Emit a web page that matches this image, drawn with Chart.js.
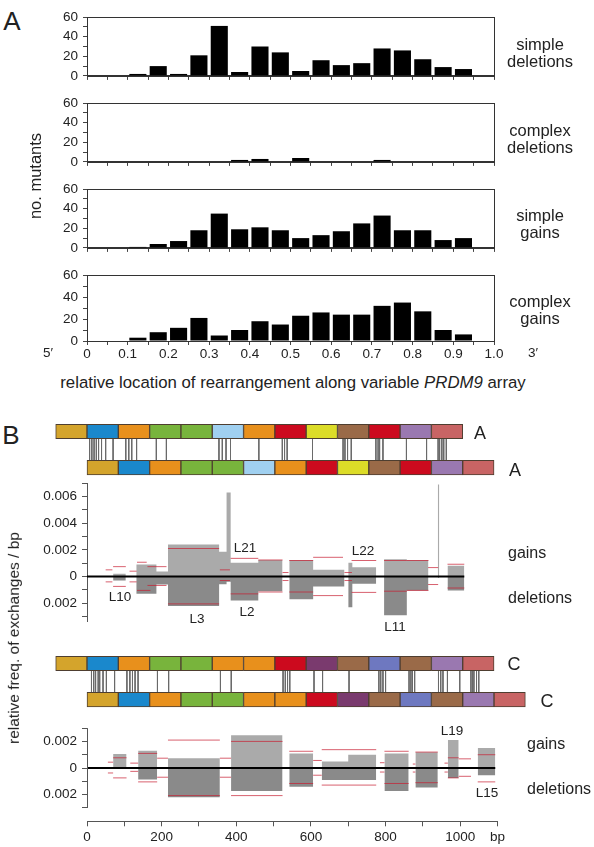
<!DOCTYPE html>
<html>
<head>
<meta charset="utf-8">
<script src="https://cdn.jsdelivr.net/npm/chart.js@4.4.1/dist/chart.umd.min.js"></script>
<style>
  body { margin: 0; width: 594px; height: 847px; position: relative; overflow: hidden; background: #fff;
         font-family: "Liberation Sans", Arial, sans-serif; color: #222; }
  canvas { position: absolute; left: 0; }
  .t { position: absolute; white-space: nowrap; transform: translate(-50%, -50%); line-height: 1.05; text-align: center; }
  .l { position: absolute; white-space: nowrap; transform: translateY(-50%); }
  .rot { transform: translate(-50%, -50%) rotate(-90deg); }
</style>
</head>
<body>

<div class="t" style="left:12px;top:22px;font-size:26px;">A</div>
<div class="t" style="left:11px;top:436px;font-size:26px;">B</div>

<canvas id="h1" width="594" height="85" style="top:4px"></canvas>
<canvas id="h2" width="594" height="85" style="top:90px"></canvas>
<canvas id="h3" width="594" height="85" style="top:176px"></canvas>
<canvas id="h4" width="594" height="103" style="top:262px"></canvas>

<div class="t" style="left:540px;top:53px;font-size:16.5px;">simple<br>deletions</div>
<div class="t" style="left:540px;top:139px;font-size:16.5px;">complex<br>deletions</div>
<div class="t" style="left:540px;top:224px;font-size:16.5px;">simple<br>gains</div>
<div class="t" style="left:540px;top:310px;font-size:16.5px;">complex<br>gains</div>
<div class="t rot" style="left:36px;top:176px;font-size:16.5px;">no. mutants</div>
<div class="t" style="left:48px;top:353px;font-size:13.5px;">5′</div>
<div class="t" style="left:533px;top:353px;font-size:13.5px;">3′</div>
<div class="t" style="left:293px;top:383px;font-size:16.8px;">relative location of rearrangement along variable <i>PRDM9</i> array</div>

<canvas id="bA" width="594" height="90" style="top:405px"></canvas>
<canvas id="pA" width="594" height="165" style="top:470px"></canvas>
<canvas id="bC" width="594" height="90" style="top:637px"></canvas>
<canvas id="pC" width="594" height="132" style="top:715px"></canvas>

<div class="t" style="left:480px;top:433px;font-size:18px;">A</div>
<div class="t" style="left:515px;top:470px;font-size:18px;">A</div>
<div class="t" style="left:514px;top:664px;font-size:18px;">C</div>
<div class="t" style="left:547px;top:701px;font-size:18px;">C</div>

<div class="t rot" style="left:14px;top:638px;font-size:15.5px;">relative freq. of exchanges / bp</div>
<div class="l" style="left:508px;top:553px;font-size:16px;">gains</div>
<div class="l" style="left:508px;top:598px;font-size:16px;">deletions</div>
<div class="l" style="left:527px;top:744px;font-size:16px;">gains</div>
<div class="l" style="left:527px;top:789px;font-size:16px;">deletions</div>

<div class="t" style="left:120px;top:597px;font-size:13.5px;">L10</div>
<div class="t" style="left:197px;top:619px;font-size:13.5px;">L3</div>
<div class="t" style="left:247px;top:612px;font-size:13.5px;">L2</div>
<div class="t" style="left:245px;top:548px;font-size:13.5px;">L21</div>
<div class="t" style="left:363px;top:551px;font-size:13.5px;">L22</div>
<div class="t" style="left:395px;top:627px;font-size:13.5px;">L11</div>
<div class="t" style="left:452px;top:731px;font-size:13.5px;">L19</div>
<div class="t" style="left:487px;top:793px;font-size:13.5px;">L15</div>

<script>
// ---- panel A: histograms, 20 bins along the array ----
const binCenters = [0.025, 0.075, 0.125, 0.175, 0.225, 0.275, 0.325, 0.375, 0.425, 0.475,
                    0.525, 0.575, 0.625, 0.675, 0.725, 0.775, 0.825, 0.875, 0.925, 0.975];
const simpleDeletions  = [0, 0, 2, 10, 2, 21, 51, 4, 30, 24, 5, 16, 11, 13, 28, 26, 17, 9, 7, 0];
const complexDeletions = [0, 0, 0, 0, 0, 0, 0, 2, 3, 0, 4, 0, 0, 0, 2, 0, 0, 0, 0, 0];
const simpleGains      = [0, 0, 1, 4, 7, 18, 35, 19, 21, 18, 10, 13, 17, 25, 33, 18, 18, 8, 10, 0];
const complexGains     = [0, 0, 3, 8, 12, 21, 5, 10, 18, 15, 23, 26, 24, 24, 32, 35, 27, 10, 6, 0];
const locationLabels = ['0', '0.1', '0.2', '0.3', '0.4', '0.5', '0.6', '0.7', '0.8', '0.9', '1.0'];

// ---- panel B: repeat arrays (84 bp units) ----
const repeatLen = 84;
const rowOffsets = [-84, 0];   // top row, bottom row (bp)
const rowLevels = [2, 1];
const repeatColours = {
  gold: '#d4a42c', blue: '#1a88cc', orange: '#e8901c', green: '#78b43c', lightblue: '#a0d0f0',
  red: '#cc0a1e', yellow: '#dcdc28', brown: '#9a6a48', lilac: '#9a78b0', salmon: '#c86464',
  plum: '#7a3a6e', slate: '#6e78c0'
};
const arrayA = ['gold', 'blue', 'orange', 'green', 'green', 'lightblue', 'orange', 'red', 'yellow', 'brown', 'red', 'lilac', 'salmon'];
const arrayC = ['gold', 'blue', 'orange', 'green', 'green', 'orange', 'orange', 'red', 'plum', 'brown', 'slate', 'brown', 'lilac', 'salmon'];
const linksA = [7, 13, 19, 25, 31, 39, 50, 70, 104, 112, 120, 133, 186, 213, 354, 363, 373, 385, 461,
                524, 530, 537, 605, 687, 692, 699, 709, 775, 781, 785, 794, 857, 911, 942, 946, 952, 957, 964];
const linksC = [12, 18, 23, 30, 34, 43, 52, 74, 107, 115, 122, 129, 137, 189, 219, 358, 387, 526, 532, 538, 544,
                609, 632, 703, 783, 788, 794, 801, 864, 869, 873, 879, 943, 949, 955, 967, 1000,
                1030, 1034, 1038, 1045, 1051];

// exchange-frequency profiles (bp intervals, freq / bp)
const startA = [70, 132, 186, 217, 354, 374, 385, 459, 542, 606, 700, 711, 796, 857, 940, 966];
const endA   = [104, 186, 217, 354, 374, 385, 459, 524, 606, 690, 711, 775, 857, 915, 944, 1011];
const gainA  = [0.0002, 0.0009, 0.00037, 0.0024, 0.00185, 0.0063, 0.00104, 0.00123, 0.00123, 0.0005,
                0.00104, 0.0007, 0.0013, 0.00123, 0.0069, 0.0008];
const delA   = [-0.0003, -0.0013, -0.0006, -0.0022, -0.00057, -0.0004, -0.0018, -0.0011, -0.0017, -0.00074,
                -0.0023, -0.00054, -0.0029, -0.00104, -0.0001, -0.00104];
const expectedA = [
  [50, 68, 0.0005], [50, 68, -0.0004], [70, 104, 0.00074], [70, 104, -0.00074],
  [114, 133, 0.0004], [114, 133, -0.0004], [134, 160, 0.00107], [134, 170, -0.00104],
  [162, 213, 0.00074], [162, 213, -0.00067], [217, 354, 0.0021], [217, 354, -0.00205],
  [356, 383, 0.0005], [356, 383, -0.0003], [385, 459, 0.00136], [385, 459, -0.0013],
  [459, 524, 0.00124], [459, 524, -0.00116], [524, 540, 0.0003], [524, 540, -0.0003],
  [542, 606, 0.0012], [542, 606, -0.00116], [606, 686, 0.00144], [606, 686, -0.00143],
  [690, 710, 0.0003], [690, 710, -0.0003], [709, 775, 0.0012], [709, 775, -0.00119],
  [796, 857, 0.0012], [796, 857, -0.0011], [857, 915, 0.0012], [857, 915, -0.00104],
  [914, 941, 0.00067], [914, 941, -0.0006], [966, 1011, 0.00092], [966, 1011, -0.00086]
];
const startC = [70, 137, 217, 386, 542, 629, 700, 797, 880, 967, 1047];
const endC   = [106, 188, 356, 524, 606, 700, 775, 862, 940, 996, 1094];
const gainC  = [0.00106, 0.0013, 0.00074, 0.00247, 0.0011, 0.0005, 0.001, 0.0011, 0.00118, 0.0021, 0.0015];
const delC   = [0, -0.00086, -0.0022, -0.00173, -0.0014, -0.0009, -0.0009, -0.00173, -0.00146, -0.00074, -0.00054];
const expectedC = [
  [56, 70, 0.00044], [56, 70, -0.00037], [70, 106, 0.00077], [70, 106, -0.00074],
  [116, 137, 0.00037], [116, 137, -0.00025], [137, 188, 0.0011], [137, 188, -0.00104],
  [188, 217, 0.00074], [188, 217, -0.00069], [217, 356, 0.0021], [217, 356, -0.00207],
  [356, 386, 0.00074], [356, 386, -0.00069], [386, 524, 0.002], [386, 524, -0.00207],
  [542, 606, 0.00126], [542, 606, -0.00116], [606, 629, 0.00057], [606, 629, -0.00054],
  [629, 775, 0.00138], [629, 775, -0.00128], [785, 797, 0.0004], [785, 797, -0.0003],
  [797, 862, 0.00126], [797, 862, -0.00116], [873, 880, 0.0003], [873, 880, -0.0003],
  [880, 940, 0.0012], [880, 940, -0.0011], [958, 967, 0.00037], [958, 967, -0.0003],
  [967, 996, 0.00077], [967, 996, -0.00074], [996, 1029, 0.00069], [996, 1029, -0.00062],
  [1047, 1094, 0.001], [1047, 1094, -0.00104]
];
const yTicksA = [-0.003, -0.002, -0.001, 0, 0.001, 0.002, 0.003, 0.004, 0.005, 0.006, 0.007];
const yTicksC = [-0.003, -0.002, -0.001, 0, 0.001, 0.002, 0.003];

Chart.defaults.font.family = '"Liberation Sans", Arial, sans-serif';
Chart.defaults.font.size = 13.5;
Chart.defaults.color = '#333';

// box round the histogram plot area
const frame = {
  id: 'frame',
  afterDraw(chart) {
    const a = chart.chartArea, ctx = chart.ctx;
    ctx.save();
    ctx.strokeStyle = '#333';
    ctx.lineWidth = 1;
    ctx.strokeRect(Math.round(a.left) + 0.5, Math.round(a.top) + 0.5, Math.round(a.right - a.left), Math.round(a.bottom - a.top));
    ctx.restore();
  }
};

// y axis line that stops short of the chart area (lower profile)
const axisLine = {
  id: 'axisLine',
  afterDraw(chart, args, opts) {
    if (opts.from === undefined) return;
    const y = chart.scales.y, ctx = chart.ctx;
    const x = Math.round(chart.chartArea.left) + 0.5;
    ctx.save();
    ctx.strokeStyle = '#555';
    ctx.lineWidth = 1;
    ctx.beginPath();
    ctx.moveTo(x, y.getPixelForValue(opts.from));
    ctx.lineTo(x, y.getPixelForValue(opts.to));
    ctx.stroke();
    ctx.restore();
  }
};

function histogram(id, values, withLabels) {
  new Chart(document.getElementById(id), {
    type: 'bar',
    data: {
      datasets: [{
        data: binCenters.map((x, i) => ({ x: x, y: values[i] })),
        backgroundColor: '#000',
        barPercentage: 0.84,
        categoryPercentage: 1
      }]
    },
    options: {
      responsive: false,
      animation: false,
      events: [],
      layout: { padding: { top: 9, right: 100, left: 0, bottom: 0 } },
      plugins: { legend: { display: false }, tooltip: { enabled: false } },
      scales: {
        x: {
          type: 'linear', min: 0, max: 1, offset: false,
          grid: { drawOnChartArea: false, tickLength: 4, color: '#444', offset: false },
          border: { color: '#333' },
          ticks: {
            display: withLabels, stepSize: 0.05, autoSkip: false, maxRotation: 0, padding: 1, color: '#222',
            callback: v => {
              const r = Math.round(v * 100);
              return r % 10 === 0 ? locationLabels[r / 10] : '';
            }
          },
          afterFit: s => { s.height = withLabels ? 24 : 6; }
        },
        y: {
          min: 0, max: 60,
          grid: { drawOnChartArea: false, tickLength: 4, color: '#444' },
          border: { color: '#333' },
          ticks: { stepSize: 10, autoSkip: false, padding: 5, color: '#222', callback: v => (v % 20 === 0 ? v : '') },
          afterFit: s => { s.width = 87; }
        }
      }
    },
    plugins: [frame]
  });
}

histogram('h1', simpleDeletions, false);
histogram('h2', complexDeletions, false);
histogram('h3', simpleGains, false);
histogram('h4', complexGains, true);

function repeatDiagram(id, seq, links) {
  const datasets = rowOffsets.map((off, r) => ({
    type: 'bar',
    indexAxis: 'y',
    data: seq.map((code, i) => ({ y: rowLevels[r], x: [off + i * repeatLen, off + (i + 1) * repeatLen] })),
    backgroundColor: seq.map(code => repeatColours[code]),
    borderColor: '#4e3e30',
    borderWidth: 1,
    borderSkipped: false,
    barThickness: 14.5,
    grouped: false
  }));
  const pts = [];
  links.forEach(x => { pts.push({ x: x, y: 1.8 }, { x: x, y: 1.2 }, { x: x, y: null }); });
  datasets.push({
    type: 'line', indexAxis: 'x', data: pts, borderColor: '#6a6a6a', borderWidth: 1,
    pointRadius: 0, spanGaps: false
  });
  new Chart(document.getElementById(id), {
    type: 'bar',
    data: { datasets: datasets },
    options: {
      responsive: false,
      animation: false,
      events: [],
      layout: { padding: { top: 8.4, bottom: 9.2, left: 31.1, right: 3.8 } },
      plugins: { legend: { display: false }, tooltip: { enabled: false } },
      scales: {
        x: { type: 'linear', min: -150, max: 1350, display: false, offset: false, grid: { offset: false } },
        y: { type: 'linear', min: 0.5, max: 2.5, display: false, offset: false, grid: { offset: false } }
      }
    }
  });
}

function stepPoints(starts, ends, vals) {
  const pts = [];
  for (let i = 0; i < starts.length; i++) {
    if (i > 0 && starts[i] > ends[i - 1]) pts.push({ x: (ends[i - 1] + starts[i]) / 2, y: null });
    pts.push({ x: starts[i], y: vals[i] }, { x: ends[i], y: vals[i] });
  }
  return pts;
}

function segPoints(segs) {
  const pts = [];
  segs.forEach(([a, b, y]) => { pts.push({ x: a, y: y }, { x: b, y: y }, { x: b, y: null }); });
  return pts;
}

function profile(id, cfg) {
  const base = { pointRadius: 0, spanGaps: false };
  new Chart(document.getElementById(id), {
    type: 'line',
    data: {
      datasets: [
        Object.assign({ data: [{ x: 0, y: 0 }, { x: cfg.zeroEnd, y: 0 }], borderColor: '#000', borderWidth: 2, order: 0 }, base),
        Object.assign({ data: segPoints(cfg.expected), borderColor: 'rgba(200, 30, 50, 0.7)', borderWidth: 1, order: 1 }, base),
        Object.assign({ data: stepPoints(cfg.starts, cfg.ends, cfg.gains), borderColor: 'rgba(0,0,0,0)', borderWidth: 1,
                        backgroundColor: '#aaaaaa', fill: 'origin', order: 2 }, base),
        Object.assign({ data: stepPoints(cfg.starts, cfg.ends, cfg.dels), borderColor: 'rgba(0,0,0,0)', borderWidth: 1,
                        backgroundColor: '#8a8a8a', fill: 'origin', order: 3 }, base)
      ]
    },
    options: {
      responsive: false,
      animation: false,
      events: [],
      layout: { padding: { top: cfg.padTop, bottom: cfg.padBottom, left: 0, right: 96.5 } },
      plugins: { legend: { display: false }, tooltip: { enabled: false }, axisLine: cfg.axisLine || {} },
      scales: {
        x: {
          type: 'linear', min: 0, max: 1100, display: cfg.showX,
          grid: { drawOnChartArea: false, tickLength: 5, color: '#555' },
          border: { color: '#555' },
          ticks: {
            stepSize: 100, autoSkip: false, maxRotation: 0, padding: 3, color: '#222',
            callback: v => (v === 1100 ? 'bp' : (v % 200 === 0 ? v : ''))
          },
          afterFit: s => { s.height = cfg.showX ? 25.7 : 0; }
        },
        y: {
          type: 'linear', min: cfg.yMin, max: cfg.yMax,
          grid: { drawOnChartArea: false, tickLength: 5, color: '#555' },
          border: { display: !cfg.axisLine, color: '#555' },
          ticks: {
            autoSkip: false, padding: 5, color: '#222',
            callback: v => {
              const k = Math.round(v * 1000);
              if (k % 2 !== 0) return '';
              return k === 0 ? '0' : (Math.abs(k) / 1000).toFixed(3);
            }
          },
          afterBuildTicks: s => { s.ticks = cfg.yTicks.map(v => ({ value: v })); },
          afterFit: s => { s.width = 87; }
        }
      }
    },
    plugins: [axisLine]
  });
}

repeatDiagram('bA', arrayA, linksA);
repeatDiagram('bC', arrayC, linksC);

profile('pA', {
  starts: startA, ends: endA, gains: gainA, dels: delA, expected: expectedA,
  zeroEnd: 1011, yMin: -0.0034, yMax: 0.007, yTicks: yTicksA,
  showX: false, padTop: 12.2, padBottom: 12.4
});
profile('pC', {
  starts: startC, ends: endC, gains: gainC, dels: delC, expected: expectedC,
  zeroEnd: 1094, yMin: -0.004, yMax: 0.003, yTicks: yTicksC,
  showX: true, padTop: 11.8, padBottom: 0, axisLine: { from: 0.003, to: -0.003 }
});
</script>
</body>
</html>
